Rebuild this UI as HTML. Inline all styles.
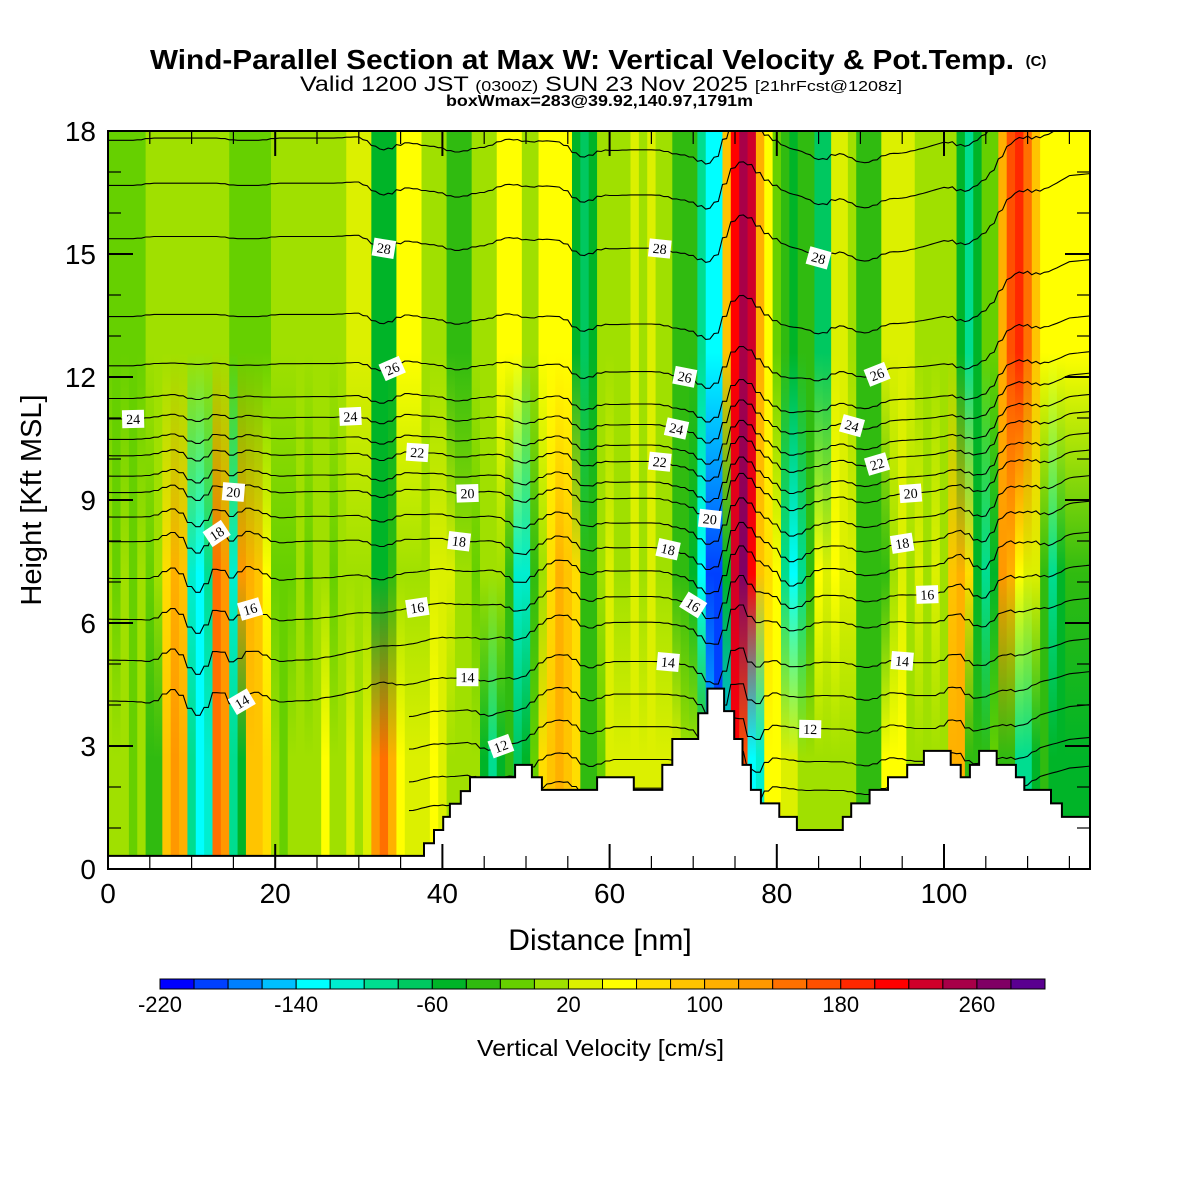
<!DOCTYPE html>
<html><head><meta charset="utf-8"><style>
html,body{margin:0;padding:0;background:#fff;}
svg{display:block;font-family:"Liberation Sans",Arial,sans-serif;}
</style></head><body>
<svg id="chart" width="1200" height="1200" viewBox="0 0 1200 1200" xmlns="http://www.w3.org/2000/svg">
<rect x="0" y="0" width="1200" height="1200" fill="#fff"/>
<text x="150" y="69" textLength="864" lengthAdjust="spacingAndGlyphs" font-size="28" font-weight="bold">Wind-Parallel Section at Max W: Vertical Velocity &amp; Pot.Temp.</text>
<text x="1036" y="66" text-anchor="middle" font-size="15" font-weight="bold">(C)</text>
<text x="300" y="91" textLength="602" lengthAdjust="spacingAndGlyphs" font-size="21">Valid 1200 JST <tspan font-size="15">(0300Z)</tspan> SUN 23 Nov 2025 <tspan font-size="15">[21hrFcst@1208z]</tspan></text>
<text x="446" y="106" textLength="307" lengthAdjust="spacingAndGlyphs" font-size="16" font-weight="bold">boxWmax=283@39.92,140.97,1791m</text>
<defs><clipPath id="plotclip"><rect x="108" y="131" width="982" height="738"/></clipPath></defs>
<g id="field" clip-path="url(#plotclip)"></g>
<g id="contours" clip-path="url(#plotclip)"></g>
<g id="terrain" clip-path="url(#plotclip)"></g>
<g id="labels" clip-path="url(#plotclip)"></g>
<rect x="108" y="131" width="982" height="738" fill="none" stroke="#000" stroke-width="2"/>
<g id="axes"></g>
<text x="600" y="950" text-anchor="middle" font-size="30">Distance [nm]</text>
<text transform="translate(41,500) rotate(-90)" text-anchor="middle" font-size="29">Height [Kft MSL]</text>
<g id="colorbar"></g>
<text x="477" y="1056" textLength="247" lengthAdjust="spacingAndGlyphs" font-size="23">Vertical Velocity [cm/s]</text>
</svg>
<script>
// vertical velocity (cm/s) per 1-nm column at ~16, ~7 and ~3 kft
const wTop = [-10,-10,-10,-10,-10,10,10,10,10,10,10,10,10,10,10,-10,-10,-10,-10,-10,10,10,10,10,10,10,10,10,10,20,20,20,-50,-50,-50,40,40,40,10,10,10,-40,-40,-40,0,0,0,50,50,50,10,10,40,40,40,40,-60,-80,-60,10,10,10,10,20,10,20,10,10,-30,-30,-30,-100,-140,-140,80,200,240,220,100,50,-20,-40,-50,-40,-40,-80,-80,20,20,10,-30,-30,-30,30,30,20,20,10,10,10,10,10,-60,-100,-60,-20,-20,100,160,180,140,80,50,40,40,40,40,40];
const wMid = [0,-10,0,-10,0,-10,0,60,100,80,-120,-140,-100,140,120,-120,120,100,80,40,-20,-20,-20,0,-10,0,0,-10,0,10,0,10,-50,-50,-40,10,10,10,10,30,30,20,0,0,-10,0,10,0,-40,-120,-120,-40,0,60,100,80,60,-40,-40,10,20,10,10,20,10,20,10,10,-30,-30,-60,-140,-200,-200,-60,220,260,200,80,60,40,-100,-140,-100,-40,40,30,40,30,20,-30,-30,-30,-30,10,20,10,20,10,20,10,80,100,60,-60,-100,-60,120,100,40,30,20,-40,-100,-60,-40,-40,-40];
const wLow = [0,0,0,-10,0,-30,-30,80,120,100,-100,-140,-120,140,120,-100,-60,80,80,60,0,-10,0,10,0,10,40,10,10,30,10,30,120,140,100,40,30,20,30,40,20,10,10,10,10,-60,-100,-60,-40,-80,-60,-20,60,80,100,80,60,-40,-40,-20,20,30,20,30,20,30,20,30,20,10,10,-40,-160,-200,-160,200,160,-140,-120,40,40,30,20,10,0,10,10,0,10,0,-30,-30,-30,40,40,40,10,10,10,10,10,100,100,-40,-40,-30,-20,-40,-40,-100,-100,-60,-40,-50,-50,-50,-50,-50];
// terrain steps (start nm, height kft)
const terrX = [0,37.8,39.0,40.1,40.9,42.2,43.3,48.7,50.7,51.9,58.5,62.9,66.3,67.5,70.6,71.7,73.7,74.9,75.9,76.9,78.1,80.3,82.4,87.9,88.9,91.1,93.3,95.6,97.6,100.8,102,103.1,104.2,106.3,108.6,109.6,112.8,114.1];
const terrH = [0.32,0.63,0.95,1.27,1.59,1.9,2.24,2.54,2.24,1.93,2.24,1.93,2.54,3.17,3.8,4.4,3.85,3.17,2.54,1.93,1.6,1.27,0.95,1.27,1.6,1.93,2.24,2.54,2.88,2.54,2.24,2.54,2.88,2.54,2.24,1.93,1.6,1.27];
// potential temperature levels and reference heights (kft)
const thetaLevels = [10,11,12,13,14,15,16,17,18,19,20,21,22,23,24,25,26,27,28,29,30];
const thetaBase = [1.0,1.7,2.5,3.3,4.1,5.1,6.1,7.1,8.0,8.6,9.2,9.6,10.1,10.5,11.0,11.5,12.3,13.5,15.4,16.7,17.8];
// large-scale displacement of isentropes every 5 nm (kft)
const trendLow = [0,0,0,0,0,0,0.2,0.3,0.5,0.6,0.8,0.9,0.9,0.9,0.9,0.9,0.9,0.9,0.9,0.9,0.9,1.0,1.3,1.6,1.7];
const trendMid = [0,0,0,0,0,0,0,0,0,0,-0.1,-0.1,-0.2,-0.2,-0.2,-0.2,-0.2,-0.2,-0.2,-0.1,0,0.2,0.6,1.0,1.1];
const trendUp = [0,0,0,0,0,0,0,-0.2,-0.2,-0.2,-0.1,-0.2,-0.3,-0.3,-0.3,-0.1,0,-0.3,-0.5,-0.4,-0.1,0.2,0.8,1.4,1.5];
// contour labels: level and distance
const labelLevels = [24,28,26,24,22,20,18,16,14,16,14,12,20,18,28,26,24,22,20,18,16,14,28,26,24,22,20,18,16,14,12];
const labelDist = [3,33,34,29,37,15,13,17,16,37,43,47,43,42,66,69,68,66,72,67,70,67,85,92,89,92,96,95,98,95,84];
// colorbar
const cbColors = ["#0000ff","#0040ff","#0080ff","#00c0ff","#00ffff","#00eed0","#00dd90","#00c860","#00b428","#30bb10","#66d000","#a0e000","#dcf000","#ffff00","#ffdd00","#ffc400","#ffb000","#ff9800","#ff7000","#ff5000","#ff2800","#ff0000","#d0002a","#a80048","#800064","#5a0090"];
const cbTicks = [-220,-140,-60,20,100,180,260];
const xTicks = [0,20,40,60,80,100];
const yTicks = [0,3,6,9,12,15,18];

const NS="http://www.w3.org/2000/svg";
const X = d => 108 + d*8.36;
const Y = k => 869 - k*41;
const XMAX = (1090-108)/8.36;
function mk(tag, attrs, parent){const e=document.createElementNS(NS,tag);for(const k in attrs)e.setAttribute(k,attrs[k]);parent.appendChild(e);return e;}
function col(w){let k=Math.floor((w+220)/20);k=Math.max(0,Math.min(25,k));return cbColors[k];}

// field
const field=document.getElementById('field');
const defs=document.querySelector('defs');
for(let i=0;i<wTop.length;i++){
  const g=mk('linearGradient',{id:'g'+i,x1:0,y1:0,x2:0,y2:1},defs);
  [[0,wTop[i]],[0.3,wTop[i]],[0.6,wMid[i]],[0.85,wLow[i]],[1,wLow[i]]].forEach(s=>mk('stop',{offset:s[0],'stop-color':col(s[1])},g));
  const x0=X(Math.max(0,i-0.5)), x1=X(i+0.5);
  const r=mk('rect',{x:x0,y:131,width:x1-x0+0.6,height:738,fill:'url(#g'+i+')'},field);
  
  
}
// contours
function wAt(x,z){
  const n=wTop.length;let s=0,c=0;
  for(let d=-1;d<=1;d++){const i=Math.max(0,Math.min(n-1,Math.round(x)+d));
    let v; if(z>=12.6)v=wTop[i]; else if(z>=7.2)v=wMid[i]+(wTop[i]-wMid[i])*(z-7.2)/5.4; else if(z>=2.7)v=wLow[i]+(wMid[i]-wLow[i])*(z-2.7)/4.5; else v=wLow[i];
    s+=v*(d===0?2:1);c+=(d===0?2:1);}
  return s/c;
}
function ti(arr,x){const f=x/5;const i=Math.min(arr.length-2,Math.floor(f));const t=f-i;return arr[i]+(arr[i+1]-arr[i])*t;}
function trend(x,z){
  const a=ti(trendLow,x),b=ti(trendMid,x),c=ti(trendUp,x);
  if(z<=5)return a; if(z<=8)return a+(b-a)*(z-5)/3; if(z<=12)return b; if(z<=15)return b+(c-b)*(z-12)/3; return c;
}
function zOf(li,x){const b=thetaBase[li];return b+trend(x,b)+0.0028*wAt(x,b);}
const cg=document.getElementById('contours');
thetaLevels.forEach((L,li)=>{
  const start = L<14 ? 36 : 0;
  let d='';
  for(let x=start;x<=XMAX+0.5;x+=0.5){d+=(d?'L':'M')+X(x).toFixed(1)+','+Y(zOf(li,x)).toFixed(1);}
  const p=mk('path',{d:d,fill:'none',stroke:'#000','stroke-width':1.1},cg);
  
  
});
// terrain
const tg=document.getElementById('terrain');
let td='M'+X(0)+','+Y(0);
for(let i=0;i<terrX.length;i++){const x0=X(terrX[i]);const x1=i+1<terrX.length?X(terrX[i+1]):1092;td+='L'+x0.toFixed(1)+','+Y(terrH[i]).toFixed(1)+'L'+x1.toFixed(1)+','+Y(terrH[i]).toFixed(1);}
td+='L1092,'+Y(0)+'Z';
const tp=mk('path',{d:td,fill:'#fff',stroke:'#000','stroke-width':2},tg);


// labels
const lg=document.getElementById('labels');
labelLevels.forEach((L,j)=>{
  const li=thetaLevels.indexOf(L);const x=labelDist[j];
  const px=X(x),py=Y(zOf(li,x));
  const dy=Y(zOf(li,x+1))-Y(zOf(li,x-1));let ang=Math.atan2(dy,2*8.36)*180/Math.PI;ang=Math.max(-60,Math.min(60,ang));
  const g=mk('g',{transform:'translate('+px.toFixed(1)+','+py.toFixed(1)+') rotate('+ang.toFixed(1)+')'},lg);
  
  
  mk('rect',{x:-11,y:-9,width:22,height:18,fill:'#fff'},g);
  const t=mk('text',{x:0,y:5,'text-anchor':'middle','font-size':14,'font-family':'Liberation Serif, serif'},g);t.textContent=L;
});
// axes ticks
const ag=document.getElementById('axes');
for(let d=0;d<=115;d+=5){const major=d%20===0;const len=major?25:13;
  mk('line',{x1:X(d),y1:869,x2:X(d),y2:869-len,stroke:'#000','stroke-width':major?2:1.2},ag);
  mk('line',{x1:X(d),y1:131,x2:X(d),y2:131+len,stroke:'#000','stroke-width':major?2:1.2},ag);}
for(let k=0;k<=18;k++){const major=k%3===0;const len=major?25:13;
  mk('line',{x1:108,y1:Y(k),x2:108+len,y2:Y(k),stroke:'#000','stroke-width':major?2:1.2},ag);
  mk('line',{x1:1090,y1:Y(k),x2:1090-len,y2:Y(k),stroke:'#000','stroke-width':major?2:1.2},ag);}
xTicks.forEach(v=>{const t=mk('text',{x:X(v),y:903,'text-anchor':'middle','font-size':28},ag);t.textContent=v;
  
  });
yTicks.forEach(v=>{const t=mk('text',{x:96,y:Y(v)+10,'text-anchor':'end','font-size':28},ag);t.textContent=v;
  
  });
// colorbar
const cb=document.getElementById('colorbar');const cw=(1045-160)/26;
cbColors.forEach((c,k)=>{const r=mk('rect',{x:160+k*cw,y:979,width:cw,height:10,fill:c,stroke:'#000','stroke-width':1},cb);
  
  });
cbTicks.forEach(v=>{const t=mk('text',{x:160+(v+220)/20*cw,y:1012,'text-anchor':'middle','font-size':22},cb);t.textContent=v;
  
  });
</script>
</body></html>
